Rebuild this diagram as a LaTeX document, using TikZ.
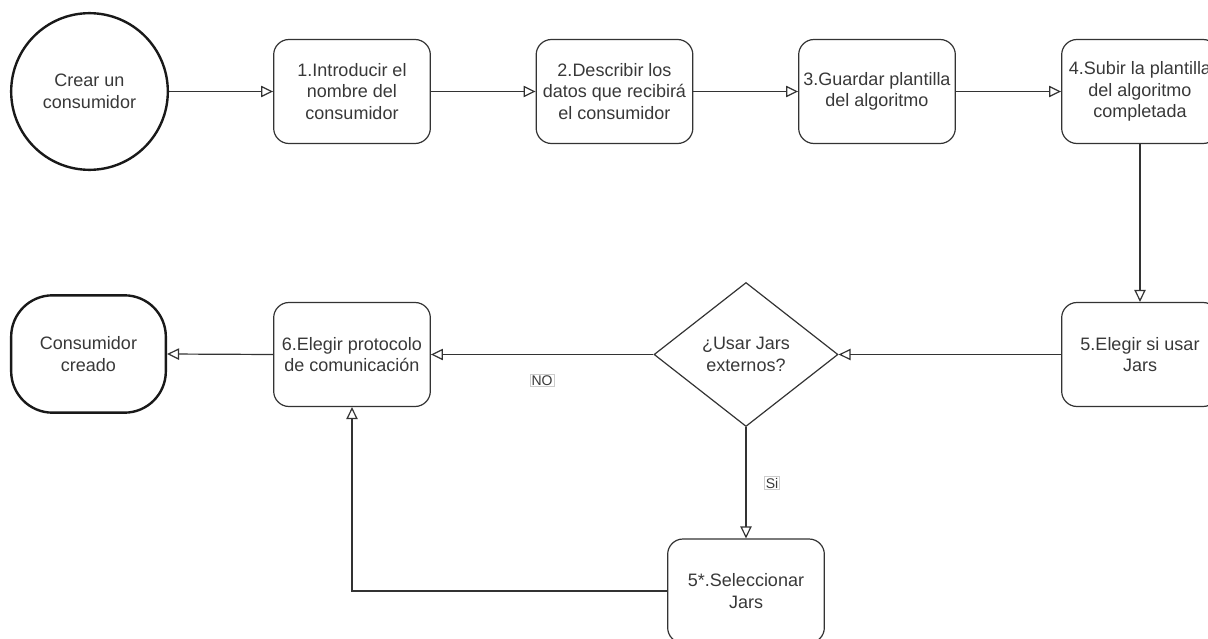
\documentclass[tikz,border=0pt]{standalone}
\usepackage{fontspec}
\setmainfont{Liberation Sans}
\usetikzlibrary{shapes.geometric,arrows.meta}
\begin{document}
\begin{tikzpicture}[x=0.75pt,y=-0.75pt,
  every node/.style={font=\fontsize{13.5}{16.1}\selectfont, text=black!78, align=center, inner sep=0pt},
  stepbox/.style={draw=black!80, line width=0.9pt, rounded corners=11.5pt,
    minimum width=117.5pt, minimum height=78pt},
  startnode/.style={circle, draw=black!90, line width=1.8pt, minimum size=117.5pt},
  endnode/.style={draw=black!90, line width=1.8pt, rounded corners=31pt,
    minimum width=116pt, minimum height=88pt},
  decision/.style={diamond, draw=black!80, line width=0.9pt, aspect=1.28,
    minimum width=138pt, minimum height=108pt},
  edgelabel/.style={draw=black!20, line width=0.5pt, fill=white, inner sep=1pt,
    font=\fontsize{10.5}{12}\selectfont},
  conn/.style={draw=black!80, line width=0.9pt,
    -{Triangle[open, length=9pt, width=8.5pt]}}
]
\useasboundingbox (0,0) rectangle (1208,639);
\clip (0,0) rectangle (1208,639);

% top row
\node[startnode] (start) at (89.5,91.5) {Crear un\\consumidor};
\node[stepbox] (s1) at (352,91.5) {1.Introducir el\\nombre del\\consumidor};
\node[stepbox] (s2) at (614.5,91.5) {2.Describir los\\datos que recibirá\\el consumidor};
\node[stepbox] (s3) at (877,91.5) {3.Guardar plantilla\\del algoritmo};
\node[stepbox] (s4) at (1140,91.5) {4.Subir la plantilla\\del algoritmo\\completada};

% middle row
\node[stepbox] (s5) at (1140,354.5) {5.Elegir si usar\\Jars};
\node[decision] (q) at (746,354.5) {¿Usar Jars\\externos?};
\node[stepbox] (s6) at (352,354.5) {6.Elegir protocolo\\de comunicación};
\node[endnode] (fin) at (88.5,354) {Consumidor\\creado};

% bottom row
\node[stepbox] (s5b) at (746,591) {5*.Seleccionar\\Jars};

% connectors
\draw[conn] (start.east) -- (s1.west);
\draw[conn] (s1.east) -- (s2.west);
\draw[conn] (s2.east) -- (s3.west);
\draw[conn] (s3.east) -- (s4.west);
\draw[conn] (s4.south) -- (s5.north);
\draw[conn] (s5.west) -- (q.east);
\draw[conn] (q.west) -- (s6.east);
\draw[conn] (q.south) -- (s5b.north);
\draw[conn] (s5b.west) -| (s6.south);
\draw[conn] (s6.west) -- (fin.east);

% branch labels
\node[edgelabel] (no) at (542,380.5) {NO};
\node[edgelabel] (si) at (772,483) {Si};
\end{tikzpicture}
\end{document}
